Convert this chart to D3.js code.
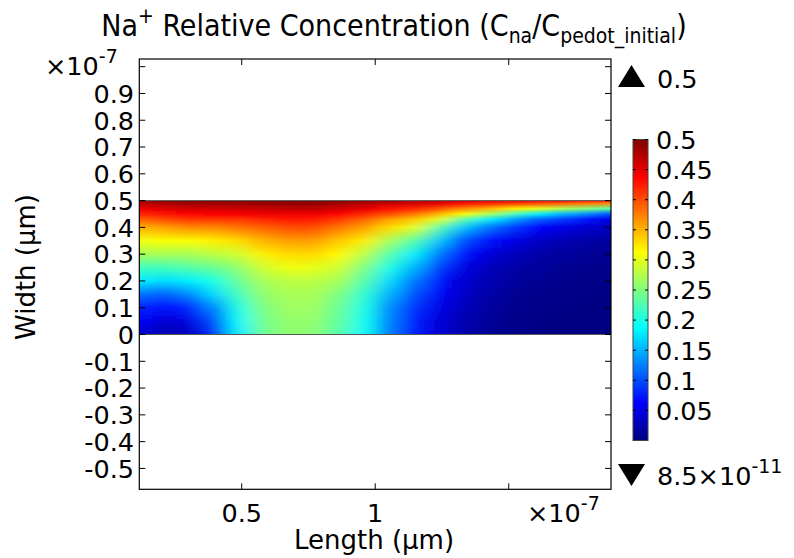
<!DOCTYPE html>
<html>
<head>
<meta charset="utf-8">
<script src="https://cdn.jsdelivr.net/npm/d3@7"></script>
<style>
  body { margin: 0; background: #fff; }
  text { font-family: "DejaVu Sans", sans-serif; fill: #000; }
</style>
</head>
<body>
<div id="chart"></div>
<script>
// Length positions of the sampled columns (x10^-7 um)
var xCols = [0.12, 0.21, 0.30, 0.40, 0.49, 0.58, 0.68, 0.77, 0.86, 0.96,
             1.05, 1.15, 1.24, 1.33, 1.43, 1.52, 1.61, 1.71, 1.80, 1.88];
// Width positions of the sampled rows (x10^-7 um)
var yRows = [0, 0.05, 0.1, 0.15, 0.2, 0.25, 0.3, 0.35, 0.4, 0.43, 0.45, 0.47, 0.49, 0.5];
// Na+ relative concentration, one array per column, bottom row first
var conc = [
  [0.04, 0.06, 0.08, 0.12, 0.18, 0.22, 0.27, 0.305, 0.35, 0.39, 0.42, 0.445, 0.47, 0.49],
  [0.02, 0.04, 0.07, 0.11, 0.17, 0.22, 0.27, 0.31, 0.36, 0.40, 0.43, 0.455, 0.48, 0.5],
  [0.03, 0.05, 0.08, 0.13, 0.18, 0.23, 0.27, 0.31, 0.37, 0.41, 0.435, 0.46, 0.485, 0.5],
  [0.08, 0.10, 0.13, 0.17, 0.20, 0.24, 0.28, 0.32, 0.37, 0.41, 0.44, 0.46, 0.485, 0.5],
  [0.18, 0.19, 0.20, 0.22, 0.24, 0.26, 0.29, 0.33, 0.38, 0.41, 0.44, 0.465, 0.485, 0.5],
  [0.24, 0.245, 0.25, 0.26, 0.27, 0.29, 0.32, 0.35, 0.39, 0.42, 0.445, 0.465, 0.49, 0.5],
  [0.26, 0.26, 0.265, 0.27, 0.28, 0.305, 0.33, 0.36, 0.40, 0.425, 0.445, 0.47, 0.49, 0.5],
  [0.255, 0.26, 0.265, 0.27, 0.28, 0.30, 0.33, 0.36, 0.40, 0.425, 0.445, 0.47, 0.49, 0.5],
  [0.23, 0.235, 0.24, 0.25, 0.27, 0.29, 0.315, 0.34, 0.38, 0.41, 0.435, 0.46, 0.485, 0.5],
  [0.19, 0.195, 0.20, 0.21, 0.23, 0.25, 0.28, 0.32, 0.36, 0.39, 0.42, 0.45, 0.475, 0.49],
  [0.12, 0.125, 0.13, 0.15, 0.17, 0.20, 0.23, 0.27, 0.33, 0.36, 0.40, 0.43, 0.465, 0.49],
  [0.07, 0.075, 0.085, 0.10, 0.12, 0.15, 0.18, 0.23, 0.30, 0.34, 0.38, 0.42, 0.46, 0.48],
  [0.04, 0.045, 0.05, 0.06, 0.07, 0.09, 0.12, 0.16, 0.23, 0.30, 0.35, 0.40, 0.45, 0.47],
  [0.02, 0.025, 0.03, 0.035, 0.04, 0.05, 0.07, 0.10, 0.16, 0.23, 0.31, 0.37, 0.43, 0.46],
  [0.01, 0.012, 0.015, 0.02, 0.025, 0.03, 0.045, 0.07, 0.12, 0.18, 0.27, 0.35, 0.42, 0.45],
  [0.005, 0.006, 0.008, 0.01, 0.015, 0.02, 0.03, 0.05, 0.09, 0.14, 0.22, 0.32, 0.41, 0.45],
  [0.003, 0.004, 0.005, 0.007, 0.01, 0.015, 0.02, 0.035, 0.065, 0.11, 0.18, 0.30, 0.40, 0.44],
  [0.002, 0.003, 0.004, 0.005, 0.007, 0.01, 0.015, 0.025, 0.05, 0.09, 0.15, 0.27, 0.39, 0.44],
  [0.001, 0.002, 0.003, 0.004, 0.005, 0.008, 0.012, 0.02, 0.04, 0.07, 0.13, 0.25, 0.38, 0.43],
  [0.001, 0.001, 0.002, 0.003, 0.004, 0.006, 0.01, 0.015, 0.03, 0.05, 0.10, 0.23, 0.37, 0.43]
];
var xTicks = [0.5, 1, 1.5];
var xTickLabels = ["0.5", "1", ""];
var yTicks = [-0.5, -0.4, -0.3, -0.2, -0.1, 0, 0.1, 0.2, 0.3, 0.4, 0.5, 0.6, 0.7, 0.8, 0.9, 1.0];
var cbTicks = [0.05, 0.1, 0.15, 0.2, 0.25, 0.3, 0.35, 0.4, 0.45, 0.5];
var cbMax = 0.5, cbMinLabel = ["8.5\u00d710", "-11"];

var W = 794, H = 558;
var plot = { left: 139.3, right: 611, top: 59, bottom: 489.3 };

var svg = d3.select("#chart").append("svg")
    .attr("width", W).attr("height", H);

var x = d3.scaleLinear().domain([0.1165, 1.883]).range([plot.left, plot.right]);
var y = d3.scaleLinear().domain([-0.578, 1.0287]).range([plot.bottom, plot.top]);

// jet colormap
var jetColors = ["#00007f", "#0000ff", "#007fff", "#00ffff", "#7fff7f", "#ffff00", "#ff7f00", "#ff0000", "#7f0000"];
var jet = d3.scaleLinear()
    .domain(d3.range(9).map(function(i) { return i * cbMax / 8; }))
    .range(jetColors).clamp(true);

var defs = svg.append("defs");

// one vertical gradient per column
conc.forEach(function(col, i) {
    var g = defs.append("linearGradient").attr("id", "col" + i)
        .attr("x1", 0).attr("y1", 1).attr("x2", 0).attr("y2", 0);
    col.forEach(function(v, j) {
        g.append("stop").attr("offset", yRows[j] / 0.5).attr("stop-color", jet(v));
    });
});

defs.append("filter").attr("id", "smooth")
    .attr("filterUnits", "userSpaceOnUse")
    .attr("x", 60).attr("y", 150).attr("width", 640).attr("height", 250)
    .append("feGaussianBlur").attr("stdDeviation", "10 0");

defs.append("clipPath").attr("id", "dom")
    .append("rect")
    .attr("x", plot.left).attr("y", y(0.5))
    .attr("width", plot.right - plot.left).attr("height", y(0) - y(0.5));

// heatmap columns
var heat = svg.append("g").attr("clip-path", "url(#dom)")
    .append("g").attr("filter", "url(#smooth)");
heat.selectAll("rect").data(xCols).enter().append("rect")
    .attr("x", function(d, i) {
        return i === 0 ? x(d) - 40 : (x(xCols[i - 1]) + x(d)) / 2;
    })
    .attr("width", function(d, i) {
        var l = i === 0 ? x(d) - 40 : (x(xCols[i - 1]) + x(d)) / 2;
        var r = i === xCols.length - 1 ? x(d) + 40 : (x(xCols[i + 1]) + x(d)) / 2;
        return r - l + 0.5;
    })
    .attr("y", y(0.5)).attr("height", y(0) - y(0.5))
    .attr("fill", function(d, i) { return "url(#col" + i + ")"; });

// domain boundary lines
svg.selectAll("line.edge").data([0, 0.5]).enter().append("line")
    .attr("class", "edge")
    .attr("x1", plot.left).attr("x2", plot.right)
    .attr("y1", function(d) { return y(d); }).attr("y2", function(d) { return y(d); })
    .attr("stroke", "#555").attr("stroke-width", 1);

// frame
svg.append("rect")
    .attr("x", plot.left).attr("y", plot.top)
    .attr("width", plot.right - plot.left).attr("height", plot.bottom - plot.top)
    .attr("fill", "none").attr("stroke", "#000").attr("stroke-width", 1.2);

// ticks (inside)
var tl = 6;
svg.selectAll("line.yt").data(yTicks).enter().append("g").each(function(d) {
    var g = d3.select(this);
    g.append("line").attr("x1", plot.left).attr("x2", plot.left + tl)
        .attr("y1", y(d)).attr("y2", y(d)).attr("stroke", "#000");
    g.append("line").attr("x1", plot.right).attr("x2", plot.right - tl)
        .attr("y1", y(d)).attr("y2", y(d)).attr("stroke", "#000");
});
svg.selectAll("line.xt").data(xTicks).enter().append("g").each(function(d) {
    var g = d3.select(this);
    g.append("line").attr("x1", x(d)).attr("x2", x(d))
        .attr("y1", plot.bottom).attr("y2", plot.bottom - tl).attr("stroke", "#000");
    g.append("line").attr("x1", x(d)).attr("x2", x(d))
        .attr("y1", plot.top).attr("y2", plot.top + tl).attr("stroke", "#000");
});

var fs = 25.5;
// y tick labels
svg.selectAll("text.yl").data(yTicks.filter(function(d) { return d < 0.95; }))
    .enter().append("text")
    .attr("x", 134).attr("y", function(d) { return y(d) + 9.3; })
    .attr("text-anchor", "end").style("font-size", fs + "px")
    .text(function(d) { return d === 0 ? "0" : d3.format(".1f")(d).replace("\u2212", "-"); });

// x tick labels
svg.selectAll("text.xl").data(xTicks).enter().append("text")
    .attr("x", function(d) { return x(d); }).attr("y", 522)
    .attr("text-anchor", "middle").style("font-size", fs + "px")
    .text(function(d, i) { return xTickLabels[i]; });

// exponent labels
function expLabel(px, py, base, exp, anchor) {
    var t = svg.append("text").attr("x", px).attr("y", py)
        .style("font-size", fs + "px").attr("text-anchor", anchor || "start");
    t.append("tspan").text(base);
    t.append("tspan").attr("dy", -12).style("font-size", "19px").text(exp);
    return t;
}
expLabel(45, 75, "\u00d710", "-7");
expLabel(527, 522, "\u00d710", "-7");

// axis titles
svg.append("text").attr("x", 374).attr("y", 549)
    .attr("text-anchor", "middle").style("font-size", "26px")
    .text("Length (\u00b5m)");
svg.append("text")
    .attr("transform", "translate(35,267) rotate(-90)")
    .attr("text-anchor", "middle").style("font-size", "26px")
    .text("Width (\u00b5m)");

// title
var title = svg.append("text").attr("x", 394).attr("y", 36)
    .attr("text-anchor", "middle").style("font-size", "30px")
    .style("font-stretch", "condensed");
title.append("tspan").text("Na");
title.append("tspan").attr("dy", -13).style("font-size", "21px").text("+");
title.append("tspan").attr("dy", 13).text(" Relative Concentration (C");
title.append("tspan").attr("dy", 7).style("font-size", "21px").text("na");
title.append("tspan").attr("dy", -7).text("/C");
title.append("tspan").attr("dy", 7).style("font-size", "21px").text("pedot_initial");
title.append("tspan").attr("dy", -7).text(")");

// colorbar
var cb = d3.scaleLinear().domain([0, cbMax]).range([440.5, 139.5]);
var cbx = 633, cbw = 15;
var cg = defs.append("linearGradient").attr("id", "cbgrad")
    .attr("x1", 0).attr("y1", 1).attr("x2", 0).attr("y2", 0);
jetColors.forEach(function(c, i) {
    cg.append("stop").attr("offset", i / 8).attr("stop-color", c);
});
svg.append("rect").attr("x", cbx).attr("y", cb(cbMax))
    .attr("width", cbw).attr("height", cb(0) - cb(cbMax))
    .attr("fill", "url(#cbgrad)").attr("stroke", "#444").attr("stroke-width", 1);
svg.selectAll("g.cbt").data(cbTicks).enter().append("g").each(function(d) {
    var g = d3.select(this);
    g.append("line").attr("x1", cbx).attr("x2", cbx + 3)
        .attr("y1", cb(d)).attr("y2", cb(d)).attr("stroke", "#000");
    g.append("line").attr("x1", cbx + cbw).attr("x2", cbx + cbw - 3)
        .attr("y1", cb(d)).attr("y2", cb(d)).attr("stroke", "#000");
    g.append("text").attr("x", 656).attr("y", cb(d) + 9.3)
        .style("font-size", fs + "px").text(String(d));
});

// max / min markers
svg.append("path").attr("d", "M618,87 L631.5,65 L645,87 Z").attr("fill", "#000");
svg.append("text").attr("x", 657).attr("y", 88).style("font-size", fs + "px").text(String(cbMax));
svg.append("path").attr("d", "M618,464 L645,464 L631.5,486 Z").attr("fill", "#000");
expLabel(657, 485, cbMinLabel[0], cbMinLabel[1]);
</script>
</body>
</html>
